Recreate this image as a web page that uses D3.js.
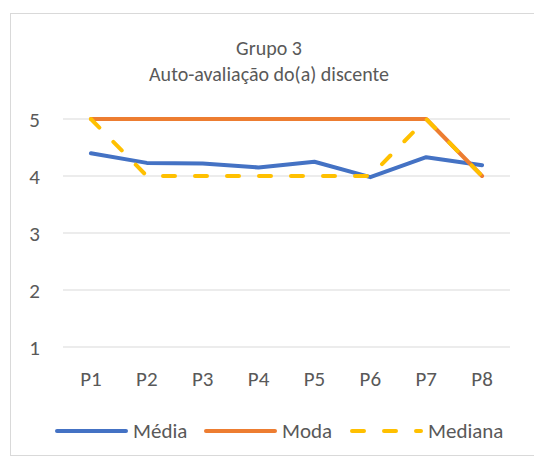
<!DOCTYPE html>
<html>
<head>
<meta charset="utf-8">
<script src="https://cdn.jsdelivr.net/npm/d3@7"></script>
<style>
  body { margin: 0; background: #fff; }
  text { font-family: Carlito, Lato, "Open Sans", sans-serif; fill: #595959; }
</style>
</head>
<body>
<div id="chart"></div>
<script>
const categories = ["P1", "P2", "P3", "P4", "P5", "P6", "P7", "P8"];
const media   = [4.40, 4.23, 4.22, 4.15, 4.25, 3.98, 4.33, 4.19];
const moda    = [5, 5, 5, 5, 5, 5, 5, 4];
const mediana = [5, 4, 4, 4, 4, 4, 5, 4];
const yTicks  = [1, 2, 3, 4, 5];

const width = 534, height = 457;
const margin = { top: 119, right: 24, bottom: 110, left: 63 };

const series = [
    { name: "Média",   values: media,   color: "#4472C4", dash: null },
    { name: "Moda",    values: moda,    color: "#ED7D31", dash: null },
    { name: "Mediana", values: mediana, color: "#FFC000", dash: "12,20" }
];

const svg = d3.select("#chart")
    .append("svg")
    .attr("width", width)
    .attr("height", height);

// chart border
svg.append("rect")
    .attr("x", 10.5).attr("y", 13.5)
    .attr("width", 540).attr("height", 442)
    .attr("fill", "#fff")
    .attr("stroke", "#d9d9d9");

const x = d3.scaleBand()
    .domain(categories)
    .range([margin.left, 510]);

const y = d3.scaleLinear()
    .domain([1, 5])
    .range([347, margin.top]);

// gridlines
svg.append("g")
    .selectAll("line")
    .data(yTicks)
    .enter()
    .append("line")
    .attr("x1", margin.left).attr("x2", 510)
    .attr("y1", d => y(d)).attr("y2", d => y(d))
    .attr("stroke", "#d9d9d9")
    .attr("stroke-width", 1.2);

// y labels
svg.append("g")
    .selectAll("text")
    .data(yTicks)
    .enter()
    .append("text")
    .attr("x", 40)
    .attr("y", d => y(d) + 7.5)
    .attr("text-anchor", "end")
    .style("font-size", "21px")
    .text(d => d);

// x labels
svg.append("g")
    .selectAll("text")
    .data(categories)
    .enter()
    .append("text")
    .attr("x", d => x(d) + x.bandwidth() / 2)
    .attr("y", 386)
    .attr("text-anchor", "middle")
    .style("font-size", "21px")
    .text(d => d);

// title
svg.append("text")
    .attr("x", 269).attr("y", 55)
    .attr("text-anchor", "middle")
    .style("font-size", "20px")
    .text("Grupo 3");
svg.append("text")
    .attr("x", 269).attr("y", 81)
    .attr("text-anchor", "middle")
    .style("font-size", "20px")
    .text("Auto-avaliação do(a) discente");

const line = d3.line()
    .x((d, i) => x(categories[i]) + x.bandwidth() / 2)
    .y(d => y(d));

series.forEach(s => {
    svg.append("path")
        .datum(s.values)
        .attr("fill", "none")
        .attr("stroke", s.color)
        .attr("stroke-width", 4)
        .attr("stroke-linecap", "round")
        .attr("stroke-linejoin", "round")
        .attr("stroke-dasharray", s.dash)
        .attr("d", line);
});

// legend
const legendX = [57, 206, 352];
const legend = svg.selectAll(".legend")
    .data(series)
    .enter()
    .append("g")
    .attr("class", "legend")
    .attr("transform", (d, i) => `translate(${legendX[i]}, 431)`);

legend.append("line")
    .attr("x1", 0).attr("x2", 69)
    .attr("y1", 0).attr("y2", 0)
    .attr("stroke", d => d.color)
    .attr("stroke-width", 4)
    .attr("stroke-linecap", "round")
    .attr("stroke-dasharray", d => d.dash);

legend.append("text")
    .attr("x", 76)
    .attr("y", 6.5)
    .style("font-size", "21px")
    .text(d => d.name);
</script>
</body>
</html>
